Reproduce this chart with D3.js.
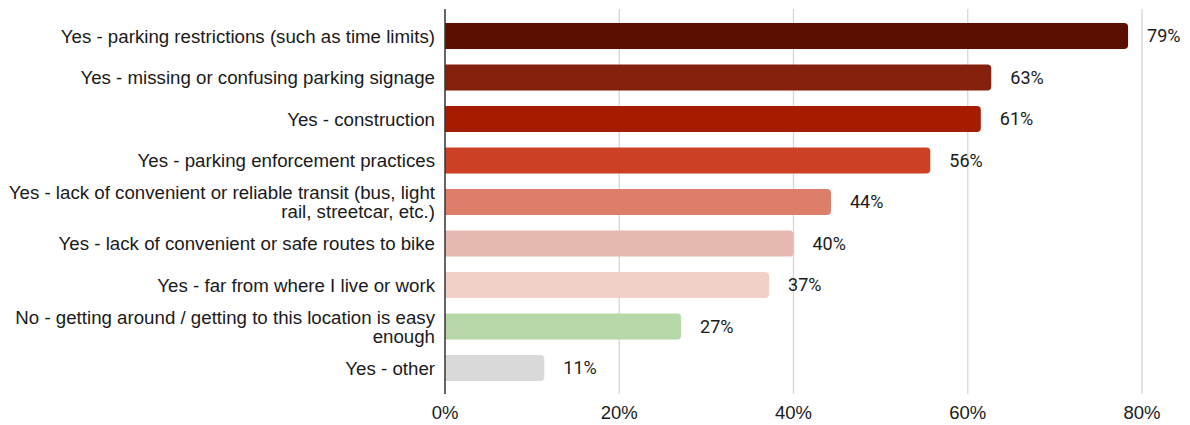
<!DOCTYPE html>
<html>
<head>
<meta charset="utf-8">
<script src="https://cdn.jsdelivr.net/npm/d3@7"></script>
<style>
  body { margin: 0; background: #fff; }
  svg { display: block; }
</style>
</head>
<body>
<div id="chart"></div>
<script>
// data
var categories = [
  ["Yes - parking restrictions (such as time limits)"],
  ["Yes - missing or confusing parking signage"],
  ["Yes - construction"],
  ["Yes - parking enforcement practices"],
  ["Yes - lack of convenient or reliable transit (bus, light", "rail, streetcar, etc.)"],
  ["Yes - lack of convenient or safe routes to bike"],
  ["Yes - far from where I live or work"],
  ["No - getting around / getting to this location is easy", "enough"],
  ["Yes - other"]
];
var values = [78.4, 62.7, 61.5, 55.7, 44.3, 40.0, 37.2, 27.1, 11.4];
var valueLabels = ["79%", "63%", "61%", "56%", "44%", "40%", "37%", "27%", "11%"];
var colors = ["#5b0f00", "#85200c", "#a61c00", "#cc4125", "#dd7e6b", "#e6b8af", "#f1d0c9", "#b6d7a8", "#d9d9d9"];
var xTicks = [0, 20, 40, 60, 80];

var w = 1190, h = 425;

var svg = d3.select('#chart').append('svg')
  .attr('width', w)
  .attr('height', h);

var x = d3.scaleLinear()
  .domain([0, 80])
  .range([445, 1142]);

var y = d3.scaleBand()
  .domain(d3.range(values.length))
  .range([15.3, 388.8])
  .paddingInner(0.37)
  .paddingOuter(0.185);

// gridlines
svg.append('g')
  .selectAll('line')
  .data(xTicks.slice(1))
  .enter().append('line')
  .attr('x1', function(d) { return x(d); })
  .attr('x2', function(d) { return x(d); })
  .attr('y1', 9)
  .attr('y2', 394)
  .style('stroke', '#d6d6d6')
  .style('stroke-width', 1.3);

// bars, square on the left, rounded on the right
function barPath(x0, y0, x1, hgt, r) {
  var p = d3.path();
  r = Math.min(r, (x1 - x0) / 2);
  p.moveTo(x0, y0);
  p.lineTo(x1 - r, y0);
  p.arcTo(x1, y0, x1, y0 + r, r);
  p.lineTo(x1, y0 + hgt - r);
  p.arcTo(x1, y0 + hgt, x1 - r, y0 + hgt, r);
  p.lineTo(x0, y0 + hgt);
  p.closePath();
  return p.toString();
}

svg.append('g')
  .selectAll('path')
  .data(values)
  .enter().append('path')
  .attr('d', function(d, i) {
    return barPath(x(0), y(i), x(d), y.bandwidth(), 4);
  })
  .style('fill', function(d, i) { return colors[i]; });

// value labels
svg.append('g')
  .selectAll('text')
  .data(values)
  .enter().append('text')
  .attr('x', function(d) { return x(d) + 19; })
  .attr('y', function(d, i) { return y(i) + y.bandwidth() / 2; })
  .attr('dy', '0.35em')
  .style('font-family', 'Roboto, sans-serif')
  .style('font-size', '18px')
  .style('fill', '#1a1a1a')
  .text(function(d, i) { return valueLabels[i]; });

// category labels (two-line ones are separate texts)
var catG = svg.append('g');

categories.forEach(function(lines, i) {
  var cy = y(i) + y.bandwidth() / 2;
  var lh = 19;
  var start = cy - (lines.length - 1) * lh / 2;
  catG.selectAll('text.cat-' + i)
    .data(lines)
    .enter().append('text')
    .attr('class', 'cat-' + i)
    .attr('text-anchor', 'end')
    .attr('x', 435)
    .attr('y', function(d, j) { return start + j * lh; })
    .attr('dy', '0.35em')
    .style('font-family', '"Liberation Sans", Arial, sans-serif')
    .style('font-size', '18.7px')
    .style('fill', '#1a1a1a')
    .text(function(d) { return d; });
});

// axis line
svg.append('line')
  .attr('x1', x(0))
  .attr('x2', x(0))
  .attr('y1', 9)
  .attr('y2', 394)
  .style('stroke', '#333')
  .style('stroke-width', 1.5);

// x tick labels
svg.append('g')
  .selectAll('text')
  .data(xTicks)
  .enter().append('text')
  .attr('x', function(d) { return x(d); })
  .attr('y', 413)
  .attr('dy', '0.35em')
  .attr('text-anchor', 'middle')
  .style('font-family', '"Liberation Sans", Arial, sans-serif')
  .style('font-size', '18.5px')
  .style('fill', '#1a1a1a')
  .text(function(d) { return d + '%'; });
</script>
</body>
</html>
